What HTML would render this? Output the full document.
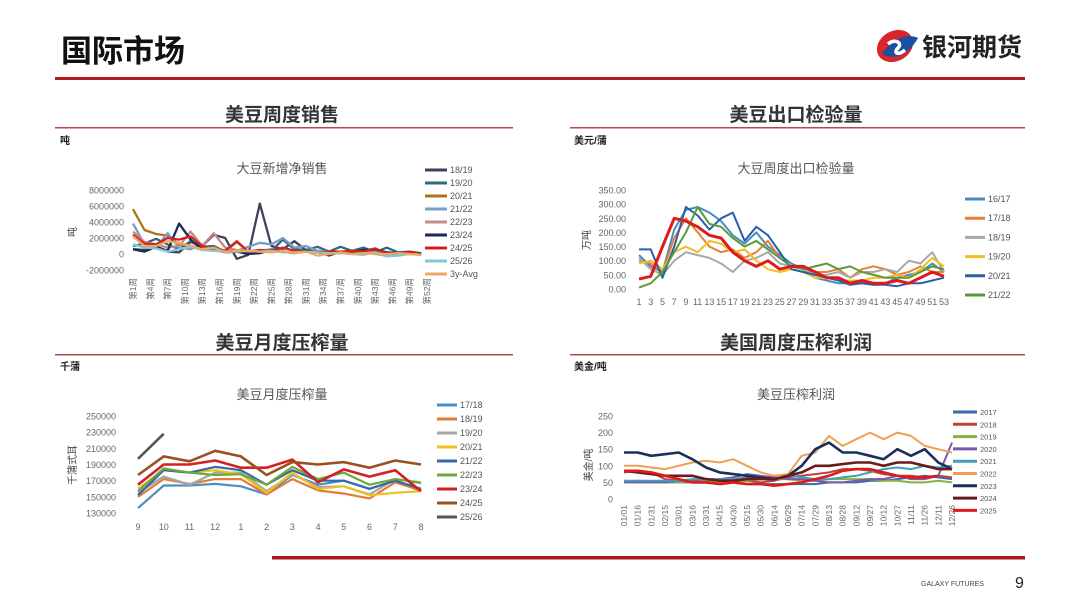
<!DOCTYPE html>
<html><head><meta charset="utf-8">
<style>
body{margin:0;background:#fff;}
#root{position:relative;width:1080px;height:608px;overflow:hidden;font-family:"Liberation Sans","Noto Sans CJK SC",sans-serif;}
svg text{font-family:"Liberation Sans","Noto Sans CJK SC",sans-serif;}
</style></head>
<body>
<div id="root">
<svg id="s" width="1080" height="608" xmlns="http://www.w3.org/2000/svg">
  <text x="61" y="62" font-size="31" font-weight="bold" fill="#111">国际市场</text>
  <g>
    <ellipse cx="895" cy="46" rx="19" ry="15" fill="#d8262c" transform="rotate(-30 895 46)"/>
    <path d="M882 54 C892 38 908 33 918 38 C910 52 898 62 882 54Z" fill="#1d4fa0"/>
    <path d="M888 44 C895 38 903 43 898 48 C893 53 898 56 905 50" stroke="#fff" stroke-width="3.5" fill="none"/>
    <text x="922" y="56" font-size="25" font-weight="bold" fill="#222">银河期货</text>
  </g>
  <rect x="55" y="77" width="970" height="3" fill="#b01c22"/>

  <text x="282" y="121" font-size="19" font-weight="bold" fill="#333" text-anchor="middle">美豆周度销售</text>
  <rect x="55" y="127" width="458" height="1.5" fill="#b5484c"/>
  <text x="796" y="121" font-size="19" font-weight="bold" fill="#333" text-anchor="middle">美豆出口检验量</text>
  <rect x="570" y="127" width="455" height="1.5" fill="#b5484c"/>
  <text x="282" y="349" font-size="19" font-weight="bold" fill="#333" text-anchor="middle">美豆月度压榨量</text>
  <rect x="55" y="354" width="458" height="1.5" fill="#b5484c"/>
  <text x="796" y="349" font-size="19" font-weight="bold" fill="#333" text-anchor="middle">美国周度压榨利润</text>
  <rect x="570" y="354" width="455" height="1.5" fill="#b5484c"/>

  <text x="60" y="144" font-size="10" font-weight="bold" fill="#222">吨</text>
  <text x="574" y="144" font-size="10" font-weight="bold" fill="#222">美元/蒲</text>
  <text x="60" y="370" font-size="10" font-weight="bold" fill="#222">千蒲</text>
  <text x="574" y="370" font-size="10" font-weight="bold" fill="#222">美金/吨</text>

  <text x="282" y="173" font-size="13" fill="#555" text-anchor="middle">大豆新增净销售</text>
  <text x="796" y="173" font-size="13" fill="#555" text-anchor="middle">大豆周度出口检验量</text>
  <text x="282" y="399" font-size="13" fill="#555" text-anchor="middle">美豆月度压榨量</text>
  <text x="796" y="399" font-size="13" fill="#555" text-anchor="middle">美豆压榨利润</text>

  <text transform="translate(76 232) rotate(-90)" font-size="10" fill="#444" text-anchor="middle">吨</text>
  <text transform="translate(590 240) rotate(-90)" font-size="10" fill="#444" text-anchor="middle">万吨</text>
  <text transform="translate(76 465) rotate(-90)" font-size="10" fill="#444" text-anchor="middle">千蒲式耳</text>
  <text transform="translate(592 465) rotate(-90)" font-size="10" fill="#444" text-anchor="middle">美金/吨</text>

  <rect x="272" y="556" width="753" height="3.5" fill="#a81a20"/>
  <text x="921" y="586" font-size="7" fill="#444">GALAXY FUTURES</text>
  <text x="1015" y="588" font-size="16" fill="#222">9</text>
</svg>
</div>
<script>
// ---------- Chart 1: weekly net sales (million tons) ----------
const c1Weeks=[1,3,5,7,9,11,13,15,17,19,21,23,25,27,29,31,33,35,37,39,41,43,45,47,49,51];
const c1Labels=['18/19','19/20','20/21','21/22','22/23','23/24','24/25','25/26','3y-Avg'];
const c1Colors=['#3f3f5f','#2e6b7a','#b0721a','#7a9cc8','#c48a8a','#1a2a5a','#d42020','#7ec8d8','#f0a860'];
const c1_1819=[0.6,0.5,0.9,0.3,0.2,1.5,1.0,2.4,2.0,-0.6,-0.1,6.3,1.0,0.6,1.6,0.5,0.3,-0.2,0.3,0.2,0.3,0.5,0.2,0.1,0.3,-0.1];
const c1_1920=[1.0,1.3,1.9,1.2,0.6,1.6,0.9,1.0,0.3,0.4,0.3,0.5,0.4,1.8,0.6,0.5,0.9,0.3,0.9,0.4,0.8,0.2,0.8,0.2,0.3,0.1];
const c1_2021=[5.6,3.0,2.5,2.3,1.2,1.0,0.8,0.6,0.3,1.5,0.3,0.3,0.4,0.3,0.2,0.4,0.3,0.3,0.2,0.1,0.2,0.3,0.1,0.1,0.2,0.0];
const c1_2122=[3.8,1.2,0.8,2.6,0.8,0.6,1.2,0.5,0.2,0.4,0.9,1.4,1.2,2.0,0.8,1.0,0.4,0.3,0.2,0.2,0.4,0.0,-0.2,0.0,0.1,-0.1];
const c1_2223=[2.8,1.5,1.2,0.8,1.0,2.8,1.0,2.6,0.8,0.5,0.3,0.4,0.6,0.3,0.2,0.3,0.4,0.2,0.1,0.3,0.2,0.1,0.2,0.1,0.0,-0.1];
const c1_2324=[0.6,0.3,0.9,0.4,3.8,1.8,0.6,0.6,0.2,0.3,0.0,0.1,0.5,0.3,0.1,0.4,0.2,0.0,0.2,0.3,0.5,0.6,0.2,0.1,0.2,0.0];
const c1_2425=[2.4,1.3,1.2,2.0,1.8,2.2,1.0,0.6,0.4,1.6,0.3,0.5,0.4,0.8,0.4,0.3,0.2,0.3,0.3,0.4,0.3,0.7,0.1,0.0,0.3,-0.1];
const c1_2526=[1.2,0.8,0.7,0.3,0.6,0.9,0.5,0.4,0.3,0.3,0.4,0.3,0.4,0.2,0.2,0.3,0.2,0.1,0.1,0.0,-0.1,0.2,-0.3,-0.2,0.0,-0.1];
const c1_avg=[2.2,1.0,1.0,1.6,1.4,1.0,0.6,0.8,0.2,0.4,0.4,0.3,0.2,0.4,0.1,0.3,-0.2,0.0,0.2,0.0,0.1,0.0,0.0,0.1,0.0,-0.1];
const c1YTicks=[8000000,6000000,4000000,2000000,0,-2000000];
const c1XTicks=[1,4,7,10,13,16,19,22,25,28,31,34,37,40,43,46,49,52];

// ---------- Chart 2: weekly inspections (10k tons) ----------
const c2Weeks=[1,3,5,7,9,11,13,15,17,19,21,23,25,27,29,31,33,35,37,39,41,43,45,47,49,51,53];
const c2Labels=['16/17','17/18','18/19','19/20','20/21','21/22','22/23'];
const c2Colors=['#4a8ac4','#e8803a','#a8a8a8','#f0c020','#2a5ea8','#5a9a3a','#e01a1a'];
const c2_1617=[120,80,60,210,280,290,270,240,190,160,200,150,120,90,70,40,30,20,20,20,15,20,40,50,60,90,60];
const c2_1718=[100,90,60,180,250,200,150,130,140,110,130,170,110,80,70,60,60,70,40,70,80,70,50,60,80,60,60];
const c2_1819=[110,70,50,100,130,120,110,90,60,100,110,130,90,80,70,50,50,60,40,60,60,70,60,100,90,130,60];
const c2_1920=[90,100,70,130,150,130,170,160,130,140,100,70,60,70,60,40,40,30,30,30,40,40,50,40,70,110,80];
const c2_2021=[140,140,40,150,290,260,210,250,270,170,220,190,130,70,60,50,40,30,15,20,15,15,10,20,20,30,40];
const c2_2122=[5,20,60,130,200,290,230,220,180,150,170,140,110,80,70,80,90,70,80,60,50,40,40,40,60,80,70];
const c2_2223=[35,45,150,250,240,220,190,180,130,100,80,100,70,80,80,60,40,40,20,30,20,20,30,20,40,60,45];
const c2YTicks=[350,300,250,200,150,100,50,0];

// ---------- Chart 3: monthly crush (thousand bu) ----------
const c3Months=['9','10','11','12','1','2','3','4','5','6','7','8'];
const c3Labels=['17/18','18/19','19/20','20/21','21/22','22/23','23/24','24/25','25/26'];
const c3Colors=['#4a90c8','#e07b39','#a5a5a5','#f0c020','#3568a8','#6aaa3a','#d42020','#9a5020','#555555'];
const c3_1718=[136000,164000,164000,166000,163000,153000,177000,165000,170000,160000,170000,157000];
const c3_1819=[150000,172000,166000,172000,172000,153000,172000,158000,154000,148000,168000,158000];
const c3_1920=[155000,175000,165000,180000,180000,157000,178000,162000,163000,153000,172000,168000];
const c3_2021=[160000,183000,180000,183000,178000,155000,180000,160000,163000,152000,155000,157000];
const c3_2122=[152000,183000,180000,187000,183000,165000,183000,170000,170000,160000,170000,160000];
const c3_2223=[157000,185000,180000,177000,178000,165000,187000,172000,180000,165000,172000,167000];
const c3_2324=[165000,190000,190000,195000,186000,186000,196000,168000,184000,175000,183000,157000];
const c3_2425=[177000,200000,194000,207000,200000,177000,193000,190000,193000,186000,195000,190000];
const c3_2526=[197000,228000];
const c3YTicks=[250000,230000,210000,190000,170000,150000,130000];

// ---------- Chart 4: crush margin (USD/t) ----------
const c4Dates=['01/01','01/16','01/31','02/15','03/01','03/16','03/31','04/15','04/30','05/15','05/30','06/14','06/29','07/14','07/29','08/13','08/28','09/12','09/27','10/12','10/27','11/11','11/26','12/11','12/26'];
const c4Labels=['2017','2018','2019','2020','2021','2022','2023','2024','2025'];
const c4Colors=['#3a6aa8','#c04040','#8ab040','#7a5aa8','#40a0b8','#f0a050','#1c2e5a','#6a1c1c','#e01a1a'];
const c4_2017=[50,55,50,50,50,50,50,50,50,45,45,45,45,45,45,50,50,50,55,55,60,65,70,65,60];
const c4_2018=[80,85,80,60,55,55,55,55,55,55,50,55,65,70,75,80,90,90,85,75,70,70,65,70,65];
const c4_2019=[55,50,50,50,50,55,55,50,50,55,60,60,60,55,55,60,60,60,60,55,55,50,50,55,50];
const c4_2020=[50,50,50,50,55,55,60,60,65,75,70,65,60,60,55,50,50,55,60,60,70,60,60,70,170];
const c4_2021=[55,55,55,55,55,60,60,60,60,65,65,60,70,65,60,60,65,70,80,90,95,90,100,95,100];
const c4_2022=[100,100,95,90,100,110,115,110,120,100,80,70,75,130,140,190,160,180,200,180,200,190,160,150,140];
const c4_2023=[140,140,130,135,140,120,95,80,75,70,65,60,70,100,150,170,140,140,130,120,150,130,150,110,90];
const c4_2024=[85,80,75,70,70,70,60,55,55,60,60,60,70,80,100,100,105,110,110,100,110,110,100,90,90];
const c4_2025=[85,85,80,70,60,50,50,45,50,45,45,40,45,50,60,70,85,90,90,80,70,65,65,70];
const c4YTicks=[250,200,150,100,50,0];

const NS='http://www.w3.org/2000/svg';
const svg=document.getElementById('s');
function mk(tag,attrs,parent){const e=document.createElementNS(NS,tag);for(const k in attrs)e.setAttribute(k,attrs[k]);(parent||svg).appendChild(e);return e;}

function drawSeries(g,xs,vals,xf,yf,color,w,name){
  let d='';
  vals.forEach((v,i)=>{if(v===null||v===undefined)return;d+=(d?'L':'M')+xf(xs[i]).toFixed(1)+' '+yf(v).toFixed(1);});
  const p=mk('path',{d:d,fill:'none',stroke:color,'stroke-width':w,'stroke-linejoin':'round'},g);
  
  
}
function legend(g,labels,colors,x0,y0,step,len,fs){
  labels.forEach((l,i)=>{
    const y=y0+i*step;
    const it=mk('g',{},g);
    
    
    mk('line',{x1:x0,y1:y,x2:x0+len,y2:y,stroke:colors[i],'stroke-width':3},it);
    const t=mk('text',{x:x0+len+3,y:y+3,'font-size':fs,fill:'#555'},it);t.textContent=l;
  });
}
function yTicks(g,ticks,yf,x,fmt,fs){
  ticks.forEach(v=>{const t=mk('text',{x:x,y:yf(v)+3.5,'font-size':fs,fill:'#666','text-anchor':'end'},g);
    
    
    t.textContent=fmt(v);});
}

// Chart 1
(function(){
  const g=mk('g',{});
  
  
  const xf=w=>133+(w-1)*(294/51);
  const yf=v=>254-v/2000000*16;
  yTicks(g,c1YTicks,yf,124,v=>String(v),9);
  c1XTicks.forEach(w=>{const t=mk('text',{transform:`translate(${xf(w)+3} 278) rotate(-90)`,'font-size':8.5,fill:'#666','text-anchor':'end'},g);
    
    
    t.textContent='第'+w+'周';});
  const all=[c1_1819,c1_1920,c1_2021,c1_2122,c1_2223,c1_2324,c1_2425,c1_2526,c1_avg];
  all.forEach((s,i)=>drawSeries(g,c1Weeks,s.map(v=>v*1000000),xf,yf,c1Colors[i],2.3,'series-'+c1Labels[i].replace('/','-')));
  legend(g,c1Labels,c1Colors,425,170,13,22,9);
})();

// Chart 2
(function(){
  const g=mk('g',{});
  
  
  const xf=w=>639+(w-1)*(305/52);
  const yf=v=>289-v*(99/350);
  yTicks(g,c2YTicks,yf,626,v=>v.toFixed(2),9);
  for(let w=1;w<=53;w+=2){const t=mk('text',{x:xf(w),y:305,'font-size':9,fill:'#666','text-anchor':'middle'},g);
    
    
    t.textContent=w;}
  const all=[c2_1617,c2_1718,c2_1819,c2_1920,c2_2021,c2_2122,c2_2223];
  all.forEach((s,i)=>drawSeries(g,c2Weeks,s,xf,yf,c2Colors[i],i===6?3:2,'series-'+c2Labels[i].replace('/','-')));
  legend(g,c2Labels.slice(0,6),c2Colors,965,199,19.2,20,9);
})();

// Chart 3
(function(){
  const g=mk('g',{});
  
  
  const xf=i=>138+i*(283/11);
  const yf=v=>513-(v-130000)/120000*97;
  yTicks(g,c3YTicks,yf,116,v=>String(v),9);
  c3Months.forEach((m,i)=>{const t=mk('text',{x:xf(i),y:530,'font-size':9,fill:'#666','text-anchor':'middle'},g);
    
    
    t.textContent=m;});
  const idx=c3Months.map((m,i)=>i);
  const all=[c3_1718,c3_1819,c3_1920,c3_2021,c3_2122,c3_2223,c3_2324,c3_2425,c3_2526];
  all.forEach((s,i)=>drawSeries(g,idx,s,xf,yf,c3Colors[i],(i>=6)?2.6:2.2,'series-'+c3Labels[i].replace('/','-')));
  legend(g,c3Labels,c3Colors,437,405,14,20,9);
})();

// Chart 4
(function(){
  const g=mk('g',{});
  
  
  const xf=i=>624+i*(328/24);
  const yf=v=>499-v*(83/250);
  yTicks(g,c4YTicks,yf,613,v=>String(v),9);
  c4Dates.forEach((d,i)=>{const t=mk('text',{transform:`translate(${xf(i)+3} 505) rotate(-90)`,'font-size':8.5,fill:'#666','text-anchor':'end'},g);
    
    
    t.textContent=d;});
  const idx=c4Dates.map((d,i)=>i);
  const all=[c4_2017,c4_2018,c4_2019,c4_2020,c4_2021,c4_2022,c4_2023,c4_2024,c4_2025];
  all.forEach((s,i)=>drawSeries(g,idx,s,xf,yf,c4Colors[i],i>=6?2.6:2,'series-'+c4Labels[i]));
  legend(g,c4Labels,c4Colors,953,412,12.3,24,7.5);
})();
</script>
</body></html>
